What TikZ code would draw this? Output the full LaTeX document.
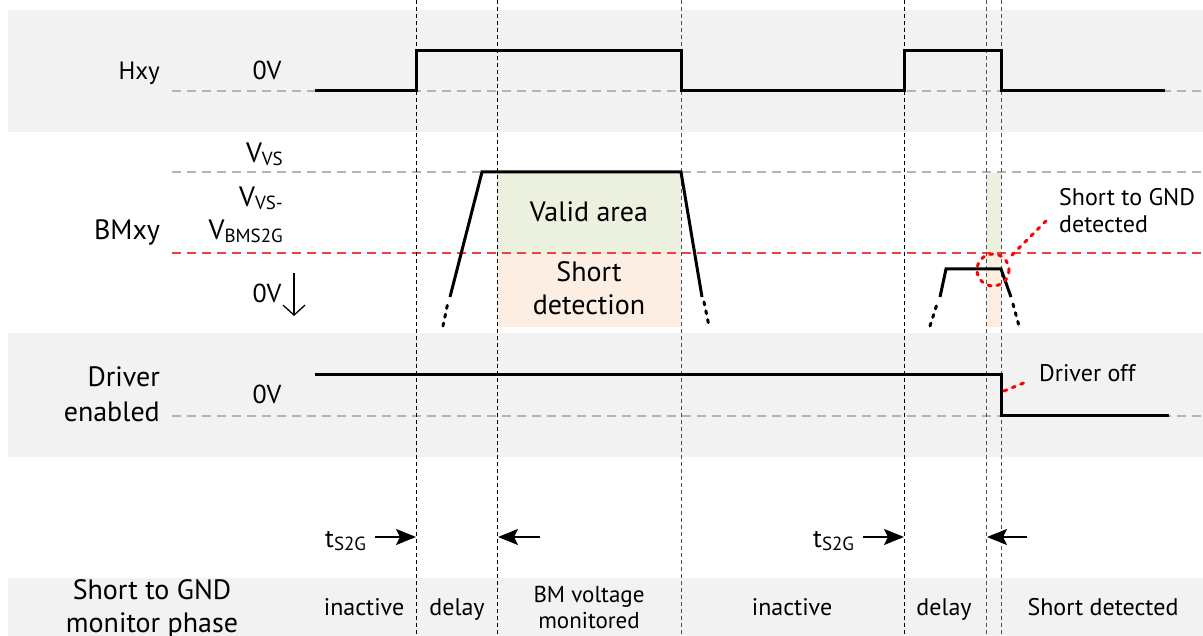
\documentclass[tikz,border=0pt]{standalone}
\usepackage{fontspec}
\setmainfont{PT Sans}
\usetikzlibrary{arrows.meta}
\definecolor{bandgray}{HTML}{F2F2F2}
\definecolor{validgreen}{HTML}{EBF0DF}
\definecolor{shortorange}{HTML}{FDEEE3}
\definecolor{dgray}{HTML}{B4B4B4}
\definecolor{vgray}{HTML}{505050}
\definecolor{rline}{HTML}{F04040}
\newcommand\subtxt[1]{\raisebox{-3pt}{\fontsize{19}{19}\selectfont #1}}
\begin{document}
\begin{tikzpicture}[x=1pt,y=-1pt,
  band/.style={fill=bandgray,draw=none},
  lbl/.style={font=\fontsize{24}{34}\selectfont,inner sep=0pt},
  biglbl/.style={font=\fontsize{28}{34}\selectfont,inner sep=0pt},
  sig/.style={line width=3pt,line cap=butt,line join=miter},
  tailline/.style={line width=3pt,dash pattern=on 3pt off 6pt,line cap=round},
  vdash/.style={line width=1pt,dash pattern=on 4pt off 3pt},
  hdash/.style={line width=1.3pt,dash pattern=on 9pt off 6pt},
  rdot/.style={draw=red,line width=3pt,dash pattern=on 3pt off 6pt,line cap=round},
  timearrow/.style={line width=2pt,-{Stealth[length=20pt,width=16pt,inset=4pt]}}]
\useasboundingbox (0,0) rectangle (1203,636);
\fill[white] (0,0) rectangle (1203,636);
% bands
\fill[band] (8,10) rectangle (1203,132);
\fill[band] (8,333) rectangle (1203,457);
\fill[band] (8,578) rectangle (1203,636);
% colored areas
\fill[validgreen] (497,173) rectangle (681,253);
\fill[shortorange] (497,253) rectangle (681,327);
\fill[validgreen] (986,173) rectangle (1001,253);
\fill[shortorange] (986,253) rectangle (1001,327);
% horizontal reference lines
\draw[hdash,draw=dgray] (172,91) -- (1203,91);
\draw[hdash,draw=dgray] (172,172) -- (1203,172);
\draw[hdash,draw=rline] (172,253) -- (1203,253);
\draw[hdash,draw=dgray] (172,416) -- (1203,416);
% vertical phase borders
\draw[vdash] (416,0) -- (416,636);
\draw[vdash] (497,0) -- (497,636);
\draw[vdash,draw=vgray] (681,0) -- (681,636);
\draw[vdash] (904,0) -- (904,636);
\draw[vdash,draw=vgray] (986,0) -- (986,636);
\draw[vdash,draw=vgray] (1001,0) -- (1001,636);
% Hxy signal
\draw[sig] (315,91) -- (416,91) -- (416,51) -- (681,51) -- (681,91) -- (904,91) -- (904,51) -- (1001,51) -- (1001,91) -- (1165,91);
% BMxy signal
\draw[tailline] (443,326) -- (448,302);
\draw[sig] (450,297) -- (482,172) -- (681,172) -- (702,297);
\draw[tailline] (704,302) -- (709,326);
\draw[tailline] (930,326) -- (937,304);
\draw[sig] (940,297) -- (946,269) -- (1001,269) -- (1011,297);
\draw[tailline] (1013,304) -- (1019,326);
% Driver enabled signal
\draw[sig] (315,375) -- (1001,375) -- (1001,416) -- (1169,416);
% left labels
\node[lbl,font=\fontsize{25}{30}\selectfont,anchor=base east] (hxy) at (160,80) {Hxy};
\node[lbl,font=\fontsize{26}{30}\selectfont,anchor=base] (hzero) at (267,80) {0V};
\node[biglbl,anchor=base east] (vvs) at (283,163) {V\subtxt{VS}};
\node[biglbl,anchor=base east] (vvsm) at (283,207) {V\subtxt{VS-}};
\node[biglbl,anchor=base east] (vbms) at (283,240) {V\subtxt{BMS2G}};
\node[biglbl,anchor=base east] (bmxy) at (160,240) {BMxy};
\node[lbl,font=\fontsize{26}{30}\selectfont,anchor=base] (bzero) at (267,303) {0V};
\coordinate (dtop) at (294,273);
\coordinate (dbot) at (294,316);
\draw[line width=1.3pt,-{Straight Barb[length=10pt,width=22pt,line width=1.3pt]}] (dtop) -- (dbot);
\node[biglbl,anchor=base east] (drv1) at (160,387) {Driver};
\node[biglbl,anchor=base east] (drv2) at (160,421) {enabled};
\node[lbl,font=\fontsize{26}{30}\selectfont,anchor=base] (dzero) at (267,403) {0V};
% areas text
\node[biglbl,anchor=base] (valid) at (589,222) {Valid area};
\node[biglbl,anchor=base] (short1) at (589,282) {Short};
\node[biglbl,anchor=base] (short2) at (589,315) {detection};
% annotations
\node[lbl,anchor=base west] (sgnd1) at (1059,206) {Short to GND};
\node[lbl,anchor=base west] (sgnd2) at (1059,233) {detected};
\draw[rdot] (993,270) circle (16);
\coordinate (c1) at (1012,255);
\coordinate (c2) at (1046,221);
\draw[rdot] (c1) -- (c2);
\node[lbl,anchor=base west] (doff) at (1039,382) {Driver off};
\coordinate (d1) at (1004,391);
\coordinate (d2) at (1026,382);
\draw[rdot] (d1) -- (d2);
% timing arrows
\node[lbl,font=\fontsize{26}{30}\selectfont,anchor=base west] (t1) at (325,547) {t\subtxt{S2G}};
\coordinate (a1s) at (375,537);
\coordinate (a1e) at (416,537);
\draw[timearrow] (a1s) -- (a1e);
\coordinate (a2s) at (540,537);
\coordinate (a2e) at (498,537);
\draw[timearrow] (a2s) -- (a2e);
\node[lbl,font=\fontsize{26}{30}\selectfont,anchor=base west] (t2) at (813,547) {t\subtxt{S2G}};
\coordinate (a3s) at (863,537);
\coordinate (a3e) at (904,537);
\draw[timearrow] (a3s) -- (a3e);
\coordinate (a4s) at (1027,537);
\coordinate (a4e) at (987,537);
\draw[timearrow] (a4s) -- (a4e);
% phase row
\node[biglbl,anchor=base] (ph1) at (152,599) {Short to GND};
\node[biglbl,anchor=base] (ph2) at (152,632) {monitor phase};
\node[lbl,anchor=base] (p1) at (364,615) {inactive};
\node[lbl,anchor=base] (p2) at (457,615) {delay};
\node[lbl,font=\fontsize{23}{30}\selectfont,anchor=base] (p3a) at (589,602) {BM voltage};
\node[lbl,font=\fontsize{23}{30}\selectfont,anchor=base] (p3b) at (589,628) {monitored};
\node[lbl,anchor=base] (p4) at (792,615) {inactive};
\node[lbl,anchor=base] (p5) at (944,615) {delay};
\node[lbl,anchor=base] (p6) at (1103,615) {Short detected};
\end{tikzpicture}
\end{document}
